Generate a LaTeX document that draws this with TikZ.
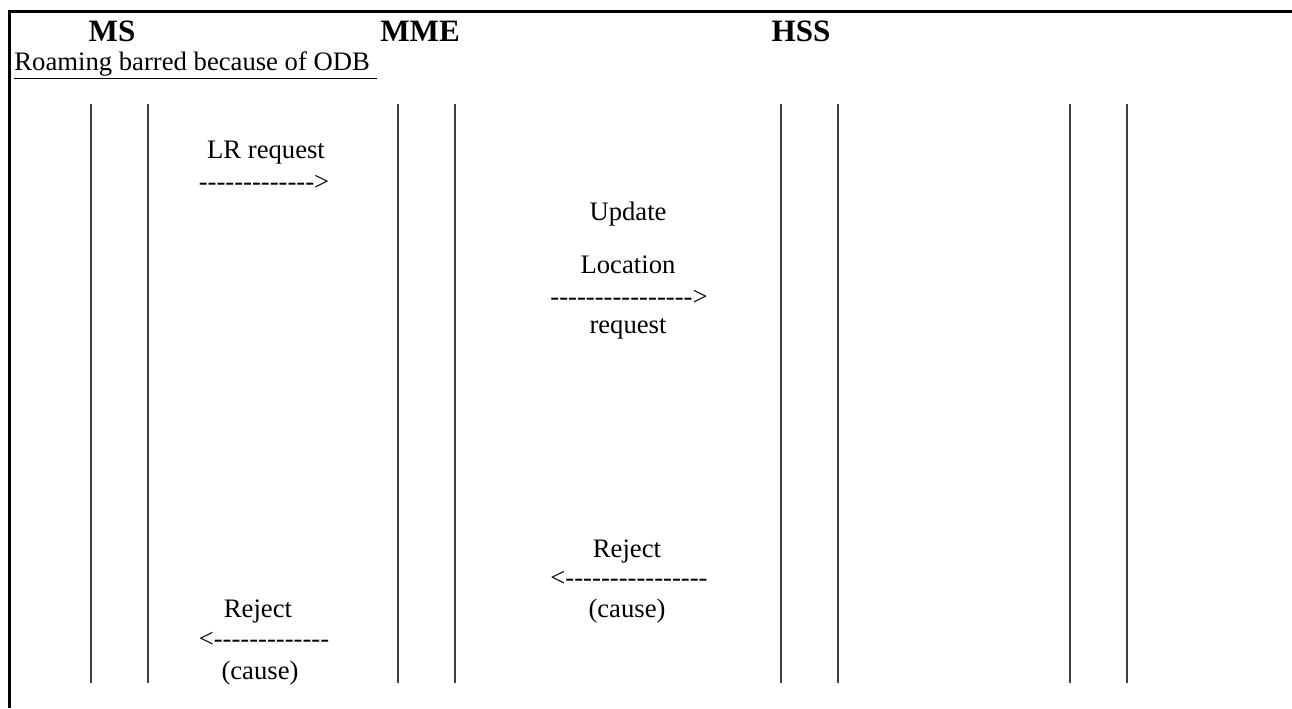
\documentclass[tikz,border=0pt]{standalone}
\usepackage{fontspec}
\setmainfont{Liberation Serif}
\newcommand\dthirteen{-{}-{}-{}-{}-{}-{}-{}-{}-{}-{}-{}-{}-}
\newcommand\dsixteen{-{}-{}-{}-{}-{}-{}-{}-{}-{}-{}-{}-{}-{}-{}-{}-}
\begin{document}
\begin{tikzpicture}[x=0.45pt,y=-0.45pt,
  frame/.style={line width=1.35pt,black},
  life/.style={line width=0.6pt,black!75},
  hdr/.style={anchor=base,inner sep=0pt,font=\fontsize{14}{16}\selectfont\bfseries},
  lbl/.style={anchor=base,inner sep=0pt,font=\fontsize{12}{14}\selectfont}]
\useasboundingbox (0,0) rectangle (1292,708);
% frame
\draw[frame] (9,708) -- (9,11) -- (1292,11);
% lifelines
\foreach \x in {91,148,398,455,781,838,1070,1127}
  \draw[life] (\x,104) -- (\x,683);
% headers
\node[hdr] (ms) at (112,41) {MS};
\node[hdr] (mme) at (420,41) {MME};
\node[hdr] (hss) at (801,41) {HSS};
\node[lbl,anchor=base west] (title) at (14,70) {\underline{Roaming barred because of ODB\ }};
% LR request
\node[lbl] (lr) at (266,158) {LR request};
\node[lbl] (lra) at (264,190) {\dthirteen>};
% Update Location request
\node[lbl] (ul1) at (628,220) {Update};
\node[lbl] (ul2) at (628,273) {Location};
\node[lbl] (ula) at (629,305) {\dsixteen>};
\node[lbl] (ul3) at (628,333) {request};
% Reject from HSS
\node[lbl] (rj1) at (627,557) {Reject};
\node[lbl] (rj1a) at (629,586) {<\dsixteen};
\node[lbl] (rj1c) at (627,617) {(cause)};
% Reject to MS
\node[lbl] (rj2) at (258,617) {Reject};
\node[lbl] (rj2a) at (264,647) {<\dthirteen};
\node[lbl] (rj2c) at (260,679) {(cause)};
\end{tikzpicture}
\end{document}
